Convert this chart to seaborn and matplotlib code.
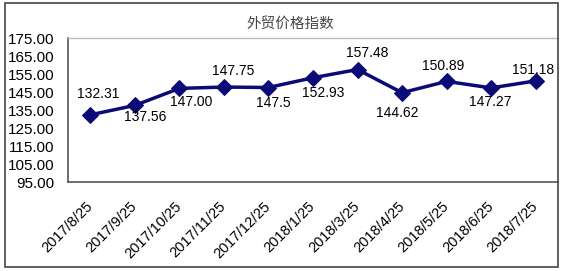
import matplotlib
matplotlib.use("Agg")
import matplotlib.pyplot as plt
import matplotlib.patches as mpatches
import seaborn as sns
import pandas as pd

dates = ["2017/8/25", "2017/9/25", "2017/10/25", "2017/11/25", "2017/12/25",
         "2018/1/25", "2018/3/25", "2018/4/25", "2018/5/25", "2018/6/25", "2018/7/25"]
values = [132.31, 137.56, 147.00, 147.75, 147.5, 152.93, 157.48, 144.62, 150.89, 147.27, 151.18]
value_labels = ["132.31", "137.56", "147.00", "147.75", "147.5", "152.93",
                "157.48", "144.62", "150.89", "147.27", "151.18"]
y_ticks = [95, 105, 115, 125, 135, 145, 155, 165, 175]
title = "外贸价格指数"

# label offsets in pixels (dx, dy), dy positive = up
label_offsets = [(8, 21), (10, -12), (12, -14), (9, 16), (5, -15.5), (10, -15),
                 (10, 17), (-5, -20), (-4, 15), (-1, -14), (-3, 11)]

sns.set_style("white")
plt.rcParams['font.family'] = ['Liberation Sans', 'DejaVu Sans']

W, H = 563, 271
fig = plt.figure(figsize=(W / 100, H / 100), dpi=100)
fig.patch.set_facecolor("white")

L, R, T, B = 68, 558, 38, 182
ax = fig.add_axes([L / W, 1 - B / H, (R - L) / W, (B - T) / H])

df = pd.DataFrame({"date": dates, "value": values})
navy = "#0b0b78"
sns.lineplot(data=df, x="date", y="value", ax=ax, color=navy, linewidth=2.5,
             marker="D", markersize=8, markeredgecolor=navy, markerfacecolor=navy,
             sort=False)

ax.set_xlim(-0.5, len(dates) - 0.5)
ax.set_ylim(95, 175)
ax.set_yticks(y_ticks)
ax.set_yticklabels([f"{v:.2f}" for v in y_ticks], fontsize=11, color="black")
ax.set_xticks(range(len(dates)))
ax.set_xticklabels(dates, rotation=45, ha="right", va="center",
                   rotation_mode="anchor", fontsize=10.5, color="black")
ax.set_xticks([i + 0.5 for i in range(len(dates) - 1)], minor=True)
ax.tick_params(axis="x", which="major", length=0, pad=16)
ax.tick_params(axis="x", which="minor", direction="in", length=4, width=1, color="#555555")
ax.tick_params(axis="y", which="major", direction="in", length=3, width=1,
               color="#555555", pad=10)
ax.set_xlabel("")
ax.set_ylabel("")

for side in ["left", "bottom"]:
    ax.spines[side].set_color("#555555")
    ax.spines[side].set_linewidth(1.2)
ax.spines["top"].set_color("#bbbbbb")
ax.spines["top"].set_linewidth(1)
ax.spines["right"].set_visible(False)

for i, (v, lab) in enumerate(zip(values, value_labels)):
    dx, dy = label_offsets[i]
    ax.annotate(lab, (i, v), xytext=(dx, dy), textcoords="offset pixels",
                ha="center", va="center", fontsize=10, color="black")

# outer frame
fig.patches.append(mpatches.Rectangle((5 / W, 1 - 267 / H), (R - 5) / W, (267 - 3) / H,
                                      transform=fig.transFigure, fill=False,
                                      edgecolor="#444444", linewidth=1.2))

fig.text(290 / W, 1 - 24 / H, title, ha="center", va="center", fontsize=10.5,
         color="#444444", family=["Noto Sans CJK SC", "DejaVu Sans"])

fig.savefig("out.png", dpi=100)
